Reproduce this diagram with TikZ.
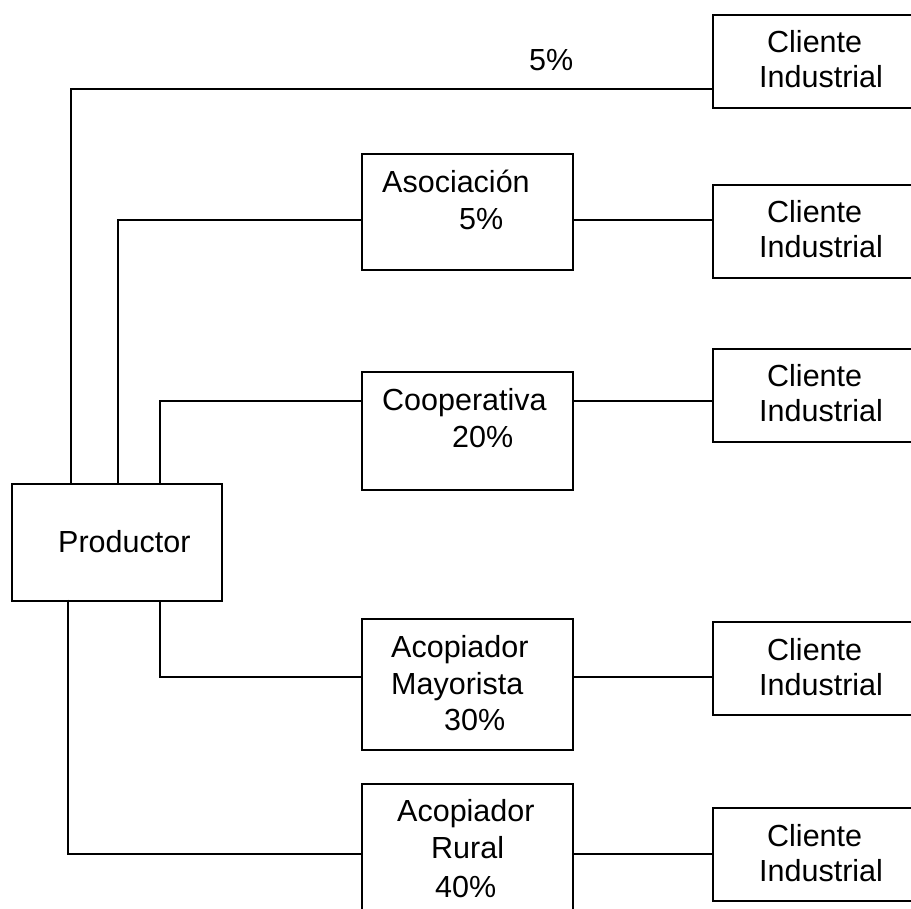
\documentclass[tikz,border=0pt]{standalone}
\usepackage{fontspec}
\setmainfont{Liberation Sans}
\begin{document}
\begin{tikzpicture}[x=1pt,y=-1pt,
  box/.style={draw=black,line width=1.6pt,rectangle,anchor=north west,inner sep=0pt},
  midbox/.style={box,minimum width=211pt},
  clientbox/.style={box,minimum width=230pt,minimum height=93pt},
  txt/.style={anchor=base west,inner sep=0pt,font=\fontsize{30.5}{35}\selectfont},
  link/.style={draw=black,line width=1.6pt}]
\clip (0,0) rectangle (911,909);
\fill[white] (0,0) rectangle (911,909);

% producer
\node[box,minimum width=210pt,minimum height=117pt] (prod) at (11,483) {};
\node[txt] (tprod) at (58,552) {Productor};

% intermediaries
\node[midbox,minimum height=116pt] (aso) at (361,153) {};
\node[midbox,minimum height=118pt] (coop) at (361,371) {};
\node[midbox,minimum height=131pt] (may) at (361,618) {};
\node[midbox,minimum height=160pt] (rur) at (361,783) {};

% industrial clients
\node[clientbox] (c1) at (712,14) {};
\node[clientbox] (c2) at (712,184) {};
\node[clientbox] (c3) at (712,348) {};
\node[clientbox] (c4) at (712,621) {};
\node[clientbox] (c5) at (712,807) {};

% channel levels
\coordinate (l1) at (0,89);
\coordinate (l2) at (0,220);
\coordinate (l3) at (0,401);
\coordinate (l4) at (0,677);
\coordinate (l5) at (0,854);

% connectors
\draw[link] ([xshift=60pt]prod.north west) |- (c1.west |- l1);
\draw[link] ([xshift=107pt]prod.north west) |- (aso.west |- l2);
\draw[link] (aso.east |- l2) -- (c2.west |- l2);
\draw[link] ([xshift=149pt]prod.north west) |- (coop.west |- l3);
\draw[link] (coop.east |- l3) -- (c3.west |- l3);
\draw[link] ([xshift=149pt]prod.south west) |- (may.west |- l4);
\draw[link] (may.east |- l4) -- (c4.west |- l4);
\draw[link] ([xshift=57pt,yshift=2pt]prod.south west) |- (rur.west |- l5);
\draw[link] (rur.east |- l5) -- (c5.west |- l5);

% labels
\node[txt] (p1) at (529,71) {5\%};
\node[txt] (ta1) at (382,193) {Asociación};
\node[txt] (ta2) at (459,230) {5\%};
\node[txt] (tc1) at (382,411) {Cooperativa};
\node[txt] (tc2) at (452,447) {20\%};
\node[txt] (tm1) at (391,657) {Acopiador};
\node[txt] (tm2) at (391,694) {Mayorista};
\node[txt] (tm3) at (444,730) {30\%};
\node[txt] (tr1) at (397,821) {Acopiador};
\node[txt] (tr2) at (431,858) {Rural};
\node[txt] (tr3) at (435,897) {40\%};

\foreach \n/\y in {1/14,2/184,3/348,4/621,5/807}{
  \node[txt] (cc\n) at (767,\y+39) {Cliente};
  \node[txt] (ci\n) at (759,\y+74) {Industrial};
}
\end{tikzpicture}
\end{document}
